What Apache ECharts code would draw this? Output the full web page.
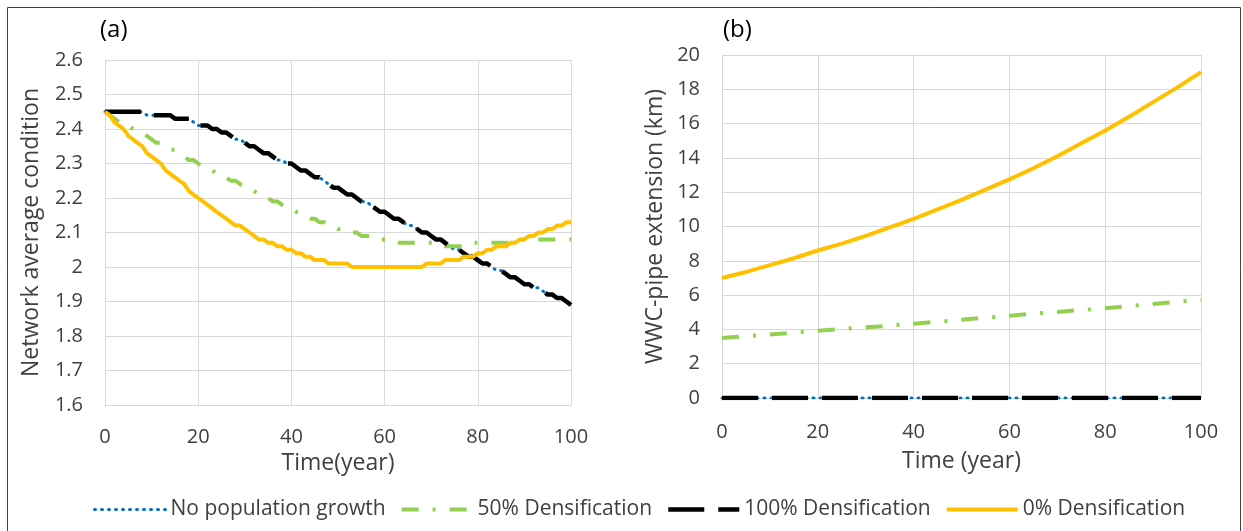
<!DOCTYPE html>
<html>
<head>
<meta charset="utf-8">
<script src="https://cdn.jsdelivr.net/npm/echarts@6/dist/echarts.min.js"></script>
<style>
html,body{margin:0;padding:0;background:#fff;}
#chart{width:1243px;height:531px;}
</style>
</head>
<body>
<div id="chart"></div>
<script>
// ---------- DATA ----------
// Panel (a): annual values, years 0..100
const yearsA = Array.from({length: 101}, (_, i) => i);
const noGrowthA = [
2.45,2.45,2.45,2.45,2.45,2.45,2.45,2.45,2.45,2.44,
2.44,2.44,2.44,2.44,2.44,2.43,2.43,2.43,2.43,2.42,
2.41,2.41,2.41,2.40,2.40,2.39,2.39,2.38,2.37,2.37,
2.36,2.35,2.35,2.34,2.33,2.33,2.32,2.31,2.31,2.30,
2.30,2.29,2.28,2.28,2.27,2.26,2.26,2.25,2.24,2.23,
2.23,2.22,2.21,2.21,2.20,2.19,2.19,2.18,2.17,2.16,
2.16,2.15,2.14,2.14,2.13,2.12,2.12,2.11,2.10,2.10,
2.09,2.08,2.08,2.07,2.06,2.05,2.05,2.04,2.03,2.03,
2.02,2.01,2.01,2.00,1.99,1.99,1.98,1.97,1.97,1.96,
1.95,1.95,1.94,1.94,1.93,1.92,1.92,1.91,1.91,1.90,
1.89];
const dens50A = [
2.45,2.44,2.43,2.42,2.42,2.41,2.40,2.39,2.39,2.38,
2.37,2.36,2.36,2.35,2.34,2.34,2.33,2.32,2.31,2.31,
2.30,2.29,2.29,2.28,2.27,2.27,2.26,2.25,2.25,2.24,
2.23,2.23,2.22,2.21,2.21,2.20,2.19,2.19,2.18,2.17,
2.17,2.16,2.16,2.15,2.14,2.14,2.13,2.13,2.12,2.12,
2.11,2.11,2.10,2.10,2.10,2.09,2.09,2.09,2.08,2.08,
2.08,2.08,2.07,2.07,2.07,2.07,2.07,2.07,2.07,2.07,
2.07,2.07,2.07,2.06,2.06,2.06,2.06,2.06,2.07,2.07,
2.07,2.07,2.07,2.07,2.07,2.07,2.07,2.07,2.08,2.08,
2.08,2.08,2.08,2.08,2.08,2.08,2.08,2.08,2.08,2.08,
2.08];
const dens100A = noGrowthA.slice();
const dens0A = [
2.45,2.44,2.42,2.41,2.40,2.38,2.37,2.36,2.35,2.33,
2.32,2.31,2.30,2.28,2.27,2.26,2.25,2.24,2.22,2.21,
2.20,2.19,2.18,2.17,2.16,2.15,2.14,2.13,2.12,2.12,
2.11,2.10,2.09,2.08,2.08,2.07,2.07,2.06,2.06,2.05,
2.05,2.04,2.04,2.03,2.03,2.02,2.02,2.02,2.01,2.01,
2.01,2.01,2.01,2.00,2.00,2.00,2.00,2.00,2.00,2.00,
2.00,2.00,2.00,2.00,2.00,2.00,2.00,2.00,2.00,2.01,
2.01,2.01,2.01,2.02,2.02,2.02,2.02,2.03,2.03,2.03,
2.04,2.04,2.05,2.05,2.06,2.06,2.06,2.07,2.07,2.08,
2.08,2.09,2.09,2.10,2.10,2.11,2.11,2.12,2.12,2.13,
2.13];

// Panel (b): values every 5 years
const yearsB = [0,5,10,15,20,25,30,35,40,45,50,55,60,65,70,75,80,85,90,95,100];
const noGrowthB = [0,0,0,0,0,0,0,0,0,0,0,0,0,0,0,0,0,0,0,0,0];
const dens50B = [3.50,3.60,3.70,3.81,3.92,4.02,4.12,4.22,4.33,4.45,4.56,4.68,4.80,4.91,5.02,5.13,5.24,5.36,5.48,5.60,5.73];
const dens100B = [0,0,0,0,0,0,0,0,0,0,0,0,0,0,0,0,0,0,0,0,0];
const dens0B = [7.00,7.35,7.75,8.15,8.60,9.00,9.45,9.95,10.45,11.00,11.55,12.15,12.75,13.40,14.10,14.85,15.60,16.40,17.25,18.10,19.00];

const seriesNames = ['No population growth', '50% Densification', '100% Densification', '0% Densification'];

// ---------- STYLE ----------
const FONT = 'Open Sans';
const TXT = '#404040';
const GRID = '#d9d9d9';
const styles = [
  {color: '#0070C0', width: 3, type: [1, 6], cap: 'round'},
  {color: '#92D050', width: 4, type: [17, 14, 3, 14], cap: 'butt'},
  {color: '#000000', width: 4.5, type: [36, 14], cap: 'butt'},
  {color: '#FFC000', width: 4, type: 'solid', cap: 'butt'}
];

function pairs(xs, ys) { return xs.map((x, i) => [x, ys[i]]); }

const dataA = [noGrowthA, dens50A, dens100A, dens0A];
const dataB = [noGrowthB, dens50B, dens100B, dens0B];

const series = [];
[0, 1].forEach(g => {
  seriesNames.forEach((name, k) => {
    series.push({
      name: name,
      type: 'line',
      xAxisIndex: g,
      yAxisIndex: g,
      data: g === 0 ? pairs(yearsA, dataA[k]) : pairs(yearsB, dataB[k]),
      showSymbol: false,
      symbol: 'none',
      smooth: false,
      silent: true,
      animation: false,
      z: 2 + k,
      lineStyle: {color: styles[k].color, width: styles[k].width, type: styles[k].type, cap: styles[k].cap},
      itemStyle: {color: styles[k].color}
    });
  });
});

function xAxisCfg(gi, name, gap, margin) {
  return {
    type: 'value', gridIndex: gi, min: 0, max: 100, interval: 20,
    name: name, nameLocation: 'middle', nameGap: gap,
    nameTextStyle: {fontFamily: FONT, fontSize: 23, color: TXT},
    axisLine: {show: true, lineStyle: {color: GRID, width: 1}},
    axisTick: {show: false},
    axisLabel: {fontFamily: FONT, fontSize: 20, color: TXT, margin: margin},
    splitLine: {show: true, lineStyle: {color: GRID, width: 1}}
  };
}
function yAxisCfg(gi, name, min, max, interval, gap, fmt) {
  return {
    type: 'value', gridIndex: gi, min: min, max: max, interval: interval,
    name: name, nameLocation: 'middle', nameGap: gap,
    nameTextStyle: {fontFamily: FONT, fontSize: 23, color: TXT},
    axisLine: {show: true, lineStyle: {color: GRID, width: 1}},
    axisTick: {show: false},
    axisLabel: {fontFamily: FONT, fontSize: 20, color: TXT, margin: 22, formatter: fmt},
    splitLine: {show: true, lineStyle: {color: GRID, width: 1}}
  };
}

const chart = echarts.init(document.getElementById('chart'), null, {renderer: 'canvas'});
chart.setOption({
  animation: false,
  backgroundColor: '#ffffff',
  textStyle: {fontFamily: FONT},
  title: [
    {text: '(a)', left: 95, top: 13, textStyle: {fontFamily: FONT, fontSize: 24, fontWeight: 'normal', color: '#000'}},
    {text: '(b)', left: 718, top: 13, textStyle: {fontFamily: FONT, fontSize: 24, fontWeight: 'normal', color: '#000'}}
  ],
  graphic: [{
    type: 'rect', silent: true, z: -10,
    shape: {x: 7.5, y: 7.5, width: 1233, height: 620},
    style: {fill: null, stroke: '#404040', lineWidth: 1}
  }],
  grid: [
    {left: 105, top: 60, width: 466, height: 345},
    {left: 722, top: 55, width: 479, height: 343}
  ],
  xAxis: [
    xAxisCfg(0, 'Time(year)', 43, 22),
    xAxisCfg(1, 'Time (year)', 52, 24)
  ],
  yAxis: [
    yAxisCfg(0, 'Network average condition', 1.6, 2.6, 0.1, 62, v => (Math.round(v * 10) / 10).toString()),
    yAxisCfg(1, 'WWC-pipe extension (km)', 0, 20, 2, 55, v => v.toString())
  ],
  legend: {
    show: true,
    top: 494,
    left: 88,
    itemWidth: 71,
    itemHeight: 14,
    itemGap: 14,
    textStyle: {fontFamily: FONT, fontSize: 21, color: TXT},
    data: seriesNames.map((n, k) => ({
      name: n,
      itemStyle: {opacity: 0, borderWidth: 0},
      lineStyle: {color: styles[k].color, width: styles[k].width, type: styles[k].type, cap: styles[k].cap, opacity: 1}
    }))
  },
  series: series
});
</script>
</body>
</html>
